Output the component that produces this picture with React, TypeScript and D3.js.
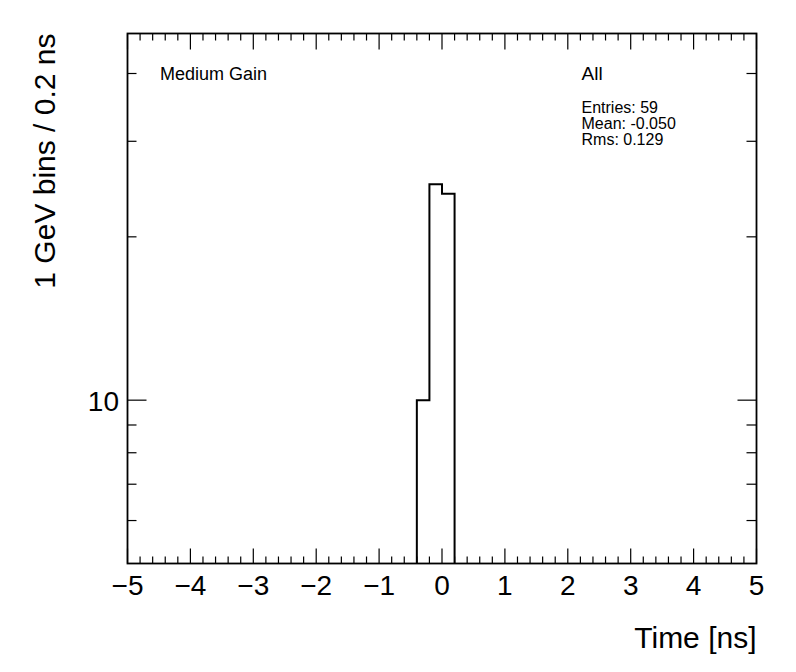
import React from "react";
import * as d3 from "d3";

const binLowEdges = [-0.4, -0.2, 0.0];
const binCounts = [10, 25, 24];
const binWidth = 0.2;

const xMajorTicks = [-5, -4, -3, -2, -1, 0, 1, 2, 3, 4, 5];
const yMajorTicks = [10];
const yMinorTicks = [6, 7, 8, 9, 20, 30, 40];

const xDomain: [number, number] = [-5, 5];
const yDomain: [number, number] = [5, 47.4];

const statsLines = ["Entries: 59", "Mean: -0.050", "Rms: 0.129"];
const histTitle = "All";
const gainLabel = "Medium Gain";
const xTitle = "Time [ns]";
const yTitle = "1 GeV bins / 0.2 ns";

const W = 796;
const H = 672;
const L = 127.5;
const R = 756.5;
const T = 33.5;
const B = 563.5;
const FONT = "'Liberation Sans', Arial, Helvetica, sans-serif";

export default function App() {
  const x = d3.scaleLinear().domain(xDomain).range([L, R]);
  const y = d3.scaleLog().domain(yDomain).range([B, T]);

  const xMinor: number[] = [];
  for (let i = 0; i <= 50; i++) {
    const v = -5 + i * 0.2;
    if (Math.abs(v - Math.round(v)) > 1e-6) xMinor.push(v);
  }

  const pts: [number, number][] = [];
  pts.push([binLowEdges[0], yDomain[0]]);
  binLowEdges.forEach((lo, i) => {
    pts.push([lo, binCounts[i]]);
    pts.push([lo + binWidth, binCounts[i]]);
  });
  pts.push([binLowEdges[binLowEdges.length - 1] + binWidth, yDomain[0]]);
  const line = d3
    .line<[number, number]>()
    .x((d) => x(d[0]))
    .y((d) => y(d[1]));

  const fmt = (v: number) => (v < 0 ? "\u2212" + Math.abs(v) : String(v));

  return (
    <svg
      width={W}
      height={H}
      style={{ position: "absolute", left: 0, top: 0, background: "#fff" }}
      fontFamily={FONT}
    >
      <rect x={0} y={0} width={W} height={H} fill="#fff" />
      {/* x ticks */}
      <g stroke="#000" strokeWidth={1.2}>
        {xMajorTicks.map((v) => (
          <g key={"xm" + v}>
            <line x1={x(v)} x2={x(v)} y1={B} y2={B - 15} />
            <line x1={x(v)} x2={x(v)} y1={T} y2={T + 16} />
          </g>
        ))}
        {xMinor.map((v, i) => (
          <g key={"xn" + i}>
            <line x1={x(v)} x2={x(v)} y1={B} y2={B - 7} />
            <line x1={x(v)} x2={x(v)} y1={T} y2={T + 7} />
          </g>
        ))}
        {yMajorTicks.map((v) => (
          <g key={"ym" + v}>
            <line x1={L} x2={L + 19} y1={y(v)} y2={y(v)} />
            <line x1={R} x2={R - 19} y1={y(v)} y2={y(v)} />
          </g>
        ))}
        {yMinorTicks.map((v) => (
          <g key={"yn" + v}>
            <line x1={L} x2={L + 9} y1={y(v)} y2={y(v)} />
            <line x1={R} x2={R - 10} y1={y(v)} y2={y(v)} />
          </g>
        ))}
      </g>
      {/* histogram */}
      <path d={line(pts) || ""} fill="none" stroke="#000" strokeWidth={2} />
      {/* frame */}
      <rect x={L} y={T} width={R - L} height={B - T} fill="none" stroke="#000" strokeWidth={1.8} />
      {/* tick labels */}
      {xMajorTicks.map((v) => (
        <text key={"xl" + v} x={x(v)} y={595} fontSize={28} textAnchor="middle" fill="#000">
          {fmt(v)}
        </text>
      ))}
      {yMajorTicks.map((v) => (
        <text key={"yl" + v} x={119} y={y(v) + 10.5} fontSize={28} textAnchor="end" fill="#000">
          {v}
        </text>
      ))}
      {/* titles */}
      <text x={R} y={648} fontSize={30} textAnchor="end" fill="#000">
        {xTitle}
      </text>
      <text
        transform={`translate(54.5,${T}) rotate(-90)`}
        fontSize={30}
        textAnchor="end"
        fill="#000"
      >
        {yTitle}
      </text>
      <text x={160} y={79.5} fontSize={18} fill="#000">
        {gainLabel}
      </text>
      <text x={581.5} y={80} fontSize={19} fill="#000">
        {histTitle}
      </text>
      {statsLines.map((s, i) => (
        <text key={s} x={581.5} y={113.3 + i * 15.6} fontSize={16} fill="#000">
          {s}
        </text>
      ))}
    </svg>
  );
}
